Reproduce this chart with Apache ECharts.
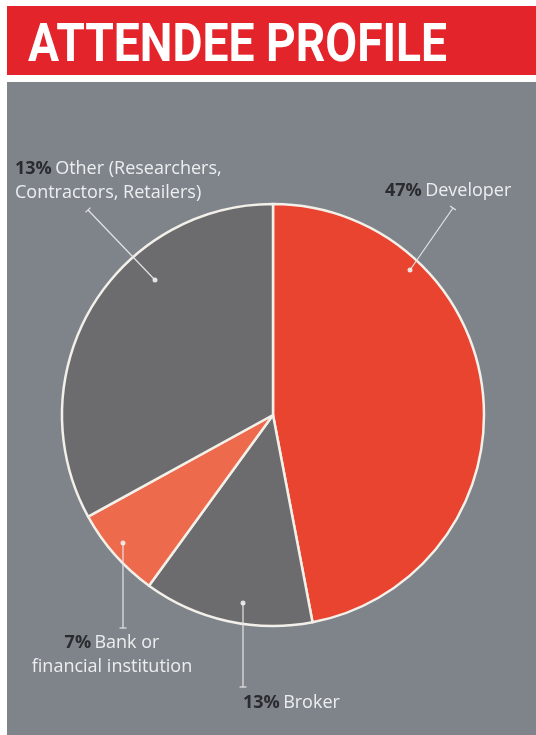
<!DOCTYPE html>
<html>
<head>
<meta charset="utf-8">
<script src="https://cdn.jsdelivr.net/npm/echarts@6/dist/echarts.min.js"></script>
<style>
html,body{margin:0;padding:0;width:536px;height:735px;background:#ffffff;overflow:hidden;}
#band{position:absolute;left:7px;top:6px;width:529px;height:69px;background:#e3242b;}
#panel{position:absolute;left:7px;top:82px;width:529px;height:653px;background:#7f848b;}
#title{position:absolute;left:28px;top:12px;color:#fff;font-family:Roboto,"DejaVu Sans",sans-serif;font-weight:bold;font-size:53px;line-height:62px;white-space:nowrap;transform-origin:0 0;}
#chart{position:absolute;left:0;top:0;width:536px;height:735px;}
</style>
</head>
<body>
<div id="band"></div>
<div id="panel"></div>
<div id="title">ATTENDEE PROFILE</div>
<div id="chart"></div>
<script>
const categories = ['Developer', 'Broker', 'Bank or\nfinancial institution', 'Other (Researchers,\nContractors, Retailers)'];
const sliceValues = [47, 13, 7, 33];
const percentLabels = ['47%', '13%', '7%', '13%'];
const sliceColors = ['#e8442f', '#6c6c6e', '#ee6a4c', '#6c6c6e'];

// fit header text width
(function () {
  const t = document.getElementById('title');
  const w = t.getBoundingClientRect().width;
  t.style.transform = 'scaleX(' + (419 / w) + ')';
})();

const chart = echarts.init(document.getElementById('chart'), null, {renderer: 'canvas'});

// label placement (layout only): text anchor, leader start inside slice, leader end
const labelPos = [
  {x: 385, y: 191, align: 'left', start: [410, 270], end: [453, 208]},
  {x: 243, y: 703, align: 'left', start: [243, 603], end: [243, 687]},
  {x: 112, y: 655, align: 'center', start: [123, 543], end: [123, 628]},
  {x: 15, y: 181, align: 'left', start: [155, 280], end: [88, 210]}
];

function fmt(p) {
  const lines = categories[p.dataIndex].split('\n');
  let s = '{p|' + percentLabels[p.dataIndex] + '} {t|' + lines[0] + '}';
  for (let i = 1; i < lines.length; i++) s += '\n{t|' + lines[i] + '}';
  return s;
}

const data = categories.map((c, i) => ({
  name: c,
  value: sliceValues[i],
  itemStyle: {color: sliceColors[i]}
}));

// leader lines (annotation): line with end cap, dot at start
const leaders = [];
labelPos.forEach(function (L) {
  const s = L.start, e = L.end;
  const dx = e[0] - s[0], dy = e[1] - s[1];
  const len = Math.sqrt(dx * dx + dy * dy);
  const px = -dy / len * 3.5, py = dx / len * 3.5;
  leaders.push({
    type: 'polyline', z: 100, silent: true,
    shape: {points: [s, e]},
    style: {stroke: '#e4e4e4', lineWidth: 1.2, fill: null}
  });
  leaders.push({
    type: 'line', z: 100, silent: true,
    shape: {x1: e[0] + px, y1: e[1] + py, x2: e[0] - px, y2: e[1] - py},
    style: {stroke: '#e4e4e4', lineWidth: 1.2}
  });
  leaders.push({
    type: 'circle', z: 100, silent: true,
    shape: {cx: s[0], cy: s[1], r: 2.5},
    style: {fill: 'rgba(240,240,240,0.9)'}
  });
});

chart.setOption({
  animation: false,
  graphic: {elements: leaders},
  series: [
    {
      type: 'pie',
      center: [273, 415],
      radius: [0, 211],
      startAngle: 90,
      clockwise: true,
      silent: true,
      itemStyle: {borderColor: '#f3f0ea', borderWidth: 2.5},
      label: {
        show: true,
        formatter: fmt,
        overflow: 'none',
        lineHeight: 24,
        rich: {
          p: {color: '#2a2b2e', fontWeight: 'bold', fontSize: 18, fontFamily: '"Open Sans", sans-serif', lineHeight: 24},
          t: {color: '#eceef0', fontSize: 18, fontFamily: '"Open Sans", sans-serif', lineHeight: 24}
        }
      },
      labelLine: {show: false},
      labelLayout: function (params) {
        const L = labelPos[params.dataIndex];
        return {x: L.x, y: L.y, align: L.align, verticalAlign: 'middle'};
      },
      data: data
    }
  ]
});
</script>
</body>
</html>
